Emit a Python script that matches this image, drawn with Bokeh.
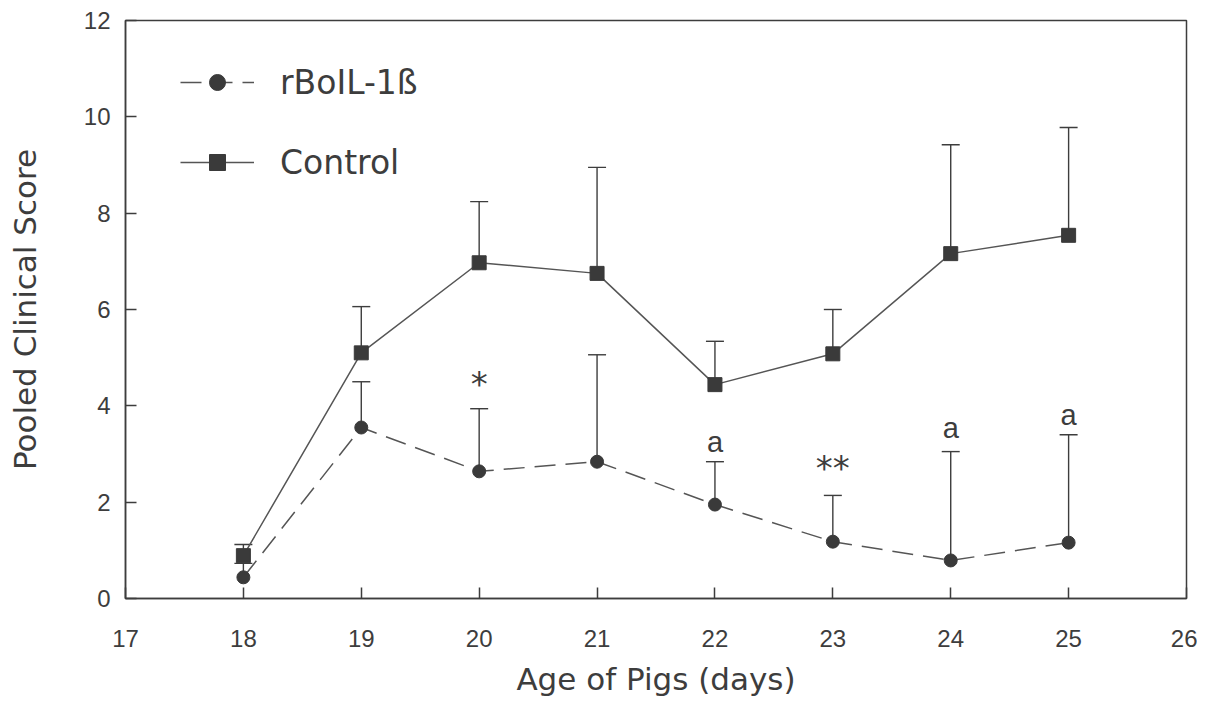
from bokeh.plotting import figure
from bokeh.models import (Range1d, FixedTicker, Whisker, TeeHead, ColumnDataSource,
                          Legend, LegendItem)
from bokeh.core.properties import value
from bokeh.embed import file_html
from bokeh.resources import INLINE

# ---- data ----
days = [18, 19, 20, 21, 22, 23, 24, 25]
control_mean = [0.89, 5.10, 6.97, 6.75, 4.44, 5.08, 7.16, 7.54]
control_err = [0.23, 0.96, 1.27, 2.20, 0.90, 0.92, 2.26, 2.24]
treat_mean = [0.44, 3.55, 2.64, 2.84, 1.95, 1.18, 0.79, 1.16]
treat_err = [0.29, 0.95, 1.30, 2.22, 0.89, 0.96, 2.26, 2.24]

star_days = [20, 23]
star_y = [4.45, 2.70]
star_text = ["*", "**"]

letter_days = [22, 24, 25]
letter_y = [3.24, 3.55, 3.80]
letter_text = ["a", "a", "a"]

x_ticks = [17, 18, 19, 20, 21, 22, 23, 24, 25, 26]
y_ticks = [0, 2, 4, 6, 8, 10, 12]

INK = "#3d3d3d"
LINE = "#555555"
TICK_FONT = "Liberation Sans"
LABEL_FONT = "DejaVu Sans"

p = figure(width=1197, height=699, output_backend="svg", toolbar_location=None,
           x_range=Range1d(17, 26), y_range=Range1d(0, 12),
           min_border_left=125, min_border_right=11, min_border_top=20,
           min_border_bottom=101, frame_width=1061, frame_height=578)

p.grid.visible = False
p.background_fill_color = "white"
p.border_fill_color = "white"
p.outline_line_color = INK
p.outline_line_width = 1.5

for ax in (p.xaxis[0], p.yaxis[0]):
    ax.axis_line_color = INK
    ax.axis_line_width = 1.5
    ax.major_tick_line_color = INK
    ax.major_tick_line_width = 1.5
    ax.major_tick_out = 0
    ax.major_tick_in = 11
    ax.minor_tick_line_color = None
    ax.major_label_text_font = TICK_FONT
    ax.major_label_text_font_size = "24px"
    ax.major_label_text_color = INK
    ax.axis_label_text_font = LABEL_FONT
    ax.axis_label_text_font_size = "31px"
    ax.axis_label_text_font_style = "normal"
    ax.axis_label_text_color = INK

p.xaxis.ticker = FixedTicker(ticks=x_ticks)
p.yaxis.ticker = FixedTicker(ticks=y_ticks)
p.xaxis.axis_label = "Age of Pigs (days)"
p.yaxis.axis_label = "Pooled Clinical Score"
p.xaxis.major_label_standoff = 31
p.xaxis.axis_label_standoff = 11
p.yaxis.major_label_standoff = 15
p.yaxis.axis_label_standoff = 38

src = ColumnDataSource(dict(
    x=days, cm=control_mean, tm=treat_mean,
    cu=[m + e for m, e in zip(control_mean, control_err)],
    tu=[m + e for m, e in zip(treat_mean, treat_err)],
))

for up, lo in (("cu", "cm"), ("tu", "tm")):
    w = Whisker(source=src, base="x", lower=lo, upper=up, dimension="height",
                line_color=INK, line_width=1.4, lower_head=None,
                upper_head=TeeHead(size=18, line_color=INK, line_width=1.4))
    p.add_layout(w)

c_line = p.line("x", "cm", source=src, line_color=LINE, line_width=1.5)
c_mark = p.scatter("x", "cm", source=src, marker="square", size=14,
                   fill_color="#3a3a3a", line_color="#3a3a3a")
t_line = p.line("x", "tm", source=src, line_color=LINE, line_width=1.5,
                line_dash="21 10")
t_mark = p.scatter("x", "tm", source=src, marker="circle", size=13,
                   fill_color="#3a3a3a", line_color="#3a3a3a")

p.text(x=star_days, y=star_y, text=star_text, text_align="center",
       text_baseline="middle", text_font=value(LABEL_FONT),
       text_font_size="34px", text_color=INK)
p.text(x=letter_days, y=letter_y, text=letter_text, text_align="center",
       text_baseline="middle", text_font=value(TICK_FONT),
       text_font_size="29px", text_color=INK)

legend = Legend(items=[
    LegendItem(label="rBoIL-1ß", renderers=[t_line, t_mark]),
    LegendItem(label="Control", renderers=[c_line, c_mark]),
], location=(55, 416))
legend.border_line_color = None
legend.background_fill_alpha = 0
legend.padding = 0
legend.margin = 0
legend.spacing = 40
legend.glyph_width = 74
legend.glyph_height = 40
legend.label_height = 40
legend.label_standoff = 26
legend.label_text_font = LABEL_FONT
legend.label_text_font_size = "33px"
legend.label_text_color = INK
p.add_layout(legend)

open("out.html", "w").write(file_html(p, INLINE))
